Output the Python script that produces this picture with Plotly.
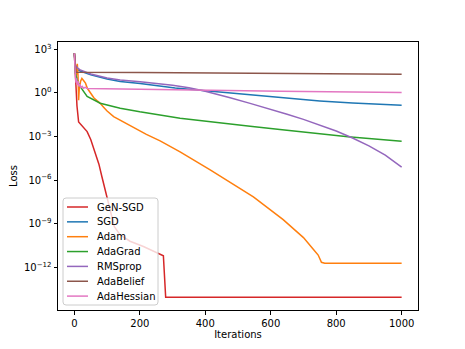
import numpy as np
import plotly.graph_objects as go

# loss curves, stored as log10(loss)
gen_sgd_iter = [0, 2, 5, 8, 13, 25, 39, 50, 64, 75, 84, 92, 100, 110, 117, 122, 140, 170, 211, 240, 262, 272, 279, 1000]
gen_sgd_log = [2.73, 1.6, 0.3, -0.9, -2.0, -2.3, -2.66, -3.2, -4.1, -4.9, -5.75, -6.5, -7.2, -8.2, -8.9, -9.2,
               -9.76, -10.2, -10.56, -10.85, -11.05, -11.2, -14.05, -14.05]

sgd_iter = [0, 3, 10, 18, 50, 100, 140, 201, 308, 405, 537, 628, 750, 850, 1000]
sgd_log = [2.73, 1.85, 1.6, 1.5, 1.25, 0.95, 0.78, 0.64, 0.33, 0.14, -0.15, -0.32, -0.55, -0.7, -0.85]

adam_iter = [0, 3, 6, 9, 11, 13, 15, 19, 23, 28, 34, 40, 50, 60, 70, 79, 90, 100, 120, 150, 181, 220, 262,
             323, 415, 465, 547, 638, 700, 730, 745, 755, 765, 1000]
adam_log = [2.73, 1.6, 1.2, 2.0, 1.3, -0.5, 0.3, 0.8, 1.0, 0.85, 0.67, 0.3, -0.05, -0.35, -0.55, -0.72, -1.0,
            -1.25, -1.63, -2.0, -2.4, -2.85, -3.3, -4.05, -5.29, -5.98, -7.15, -8.72, -9.95, -10.75, -11.15,
            -11.65, -11.72, -11.72]

adagrad_iter = [0, 3, 10, 18, 39, 79, 140, 200, 323, 450, 537, 628, 700, 836, 1000]
adagrad_log = [2.73, 1.35, 0.8, 0.43, -0.25, -0.71, -1.05, -1.3, -1.74, -2.1, -2.3, -2.52, -2.7, -3.02, -3.32]

rmsprop_iter = [0, 3, 10, 18, 50, 100, 140, 201, 300, 350, 394, 430, 476, 537, 600, 650, 700, 750, 800, 850,
                900, 950, 1000]
rmsprop_log = [2.73, 1.9, 1.7, 1.58, 1.3, 1.02, 0.89, 0.77, 0.52, 0.36, 0.15, -0.05, -0.34, -0.72, -1.12,
               -1.47, -1.82, -2.2, -2.62, -3.1, -3.64, -4.28, -5.1]

adabelief_iter = [0, 2, 5, 200, 628, 1000]
adabelief_log = [2.73, 1.8, 1.42, 1.4, 1.36, 1.29]

adahessian_iter = [0, 1, 3, 5, 7, 9, 11, 14, 17, 20, 24, 28, 33, 40, 140, 201, 400, 628, 1000]
adahessian_log = [2.73, 1.6, 1.2, 0.7, 1.0, 0.55, 0.8, 0.45, 0.6, 0.35, 0.45, 0.32, 0.38, 0.3, 0.27, 0.23,
                  0.14, 0.12, 0.02]

series = [
    ("GeN-SGD", gen_sgd_iter, gen_sgd_log, "#d62728"),
    ("SGD", sgd_iter, sgd_log, "#1f77b4"),
    ("Adam", adam_iter, adam_log, "#ff7f0e"),
    ("AdaGrad", adagrad_iter, adagrad_log, "#2ca02c"),
    ("RMSprop", rmsprop_iter, rmsprop_log, "#9467bd"),
    ("AdaBelief", adabelief_iter, adabelief_log, "#8c564b"),
    ("AdaHessian", adahessian_iter, adahessian_log, "#e377c2"),
]

x_ticks = [0, 200, 400, 600, 800, 1000]
y_tick_exps = [3, 0, -3, -6, -9, -12]

# plot area in pixels (matplotlib-like layout)
W, H = 465, 349
L, R, T, B = 58, 418, 42, 310


def px(x):
    return (x - L) / (R - L)


def py(y):
    return (B - y) / (B - T)


fig = go.Figure()
for name, xs, logs, color in series:
    fig.add_trace(go.Scatter(x=xs, y=10 ** np.array(logs), mode="lines", name=name,
                             line=dict(color=color, width=1.5), showlegend=False))

# -----------------------------
# legend, drawn by hand so the row spacing matches matplotlib
# -----------------------------
bx0, bx1, by0, by1, rad = 63, 158, 198, 305, 3
path = (f"M {px(bx0 + rad)},{py(by0)} L {px(bx1 - rad)},{py(by0)} "
        f"Q {px(bx1)},{py(by0)} {px(bx1)},{py(by0 + rad)} L {px(bx1)},{py(by1 - rad)} "
        f"Q {px(bx1)},{py(by1)} {px(bx1 - rad)},{py(by1)} L {px(bx0 + rad)},{py(by1)} "
        f"Q {px(bx0)},{py(by1)} {px(bx0)},{py(by1 - rad)} L {px(bx0)},{py(by0 + rad)} "
        f"Q {px(bx0)},{py(by0)} {px(bx0 + rad)},{py(by0)} Z")
fig.add_shape(type="path", path=path, xref="paper", yref="paper", layer="above",
              fillcolor="rgba(255,255,255,0.8)", line=dict(color="#cccccc", width=1))
row0, row_gap = 207, 14.85
for i, (name, _, _, color) in enumerate(series):
    yy = row0 + i * row_gap
    fig.add_shape(type="line", xref="paper", yref="paper", layer="above",
                  x0=px(67), x1=px(88), y0=py(yy), y1=py(yy), line=dict(color=color, width=1.5))
    fig.add_annotation(x=px(95), y=py(yy), xref="paper", yref="paper", text=name, showarrow=False,
                       xanchor="left", yanchor="middle", font=dict(size=10, color="black"))

axis_style = dict(showline=True, mirror=True, linecolor="black", linewidth=1, ticks="outside",
                  ticklen=3.5, tickcolor="black", showgrid=False, zeroline=False, automargin=False,
                  tickfont=dict(size=10, color="black"))

fig.update_xaxes(range=[-50, 1050], tickvals=x_ticks,
                 title=dict(text="Iterations", font=dict(size=10, color="black"), standoff=2),
                 **axis_style)
fig.update_yaxes(type="log", range=[-14.93, 3.5],
                 tickvals=[10.0 ** e for e in y_tick_exps],
                 ticktext=["10<sup>%s</sup>" % str(e).replace("-", "\u2212") for e in y_tick_exps],
                 title=dict(text="Loss", font=dict(size=10, color="black"), standoff=4),
                 **axis_style)

fig.update_layout(
    width=W, height=H,
    margin=dict(l=L, r=W - R, t=T, b=H - B),
    paper_bgcolor="white", plot_bgcolor="white",
    font=dict(family="DejaVu Sans", size=10, color="black"),
    showlegend=False,
)

# page body has a default 8px margin; drop it so the figure sits at the window corner
fig.write_html("out.html", config={"displayModeBar": False},
               post_script="document.body.style.margin='0';")
